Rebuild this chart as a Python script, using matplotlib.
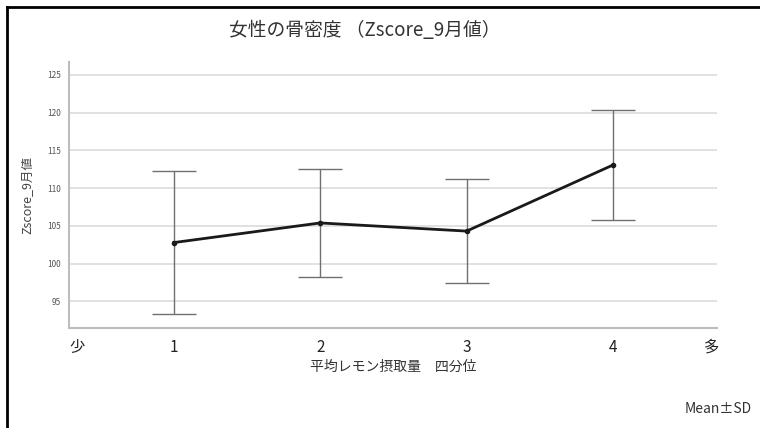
import matplotlib
matplotlib.use("Agg")
import matplotlib.pyplot as plt
from matplotlib.lines import Line2D

plt.rcParams['font.family'] = ['Noto Sans CJK JP', 'DejaVu Sans']

# data
quartile = [1, 2, 3, 4]
mean = [102.78, 105.38, 104.30, 113.06]
sd = [9.52, 7.20, 6.88, 7.32]
yticks = [95, 100, 105, 110, 115, 120, 125]
end_labels = ['少', '多']

fig = plt.figure(figsize=(7.6, 4.28), dpi=100)
ax = fig.add_axes([0.0908, 0.2343, 0.8526, 0.6208])

ax.errorbar(quartile, mean, yerr=sd, fmt='none', ecolor='#707070',
            elinewidth=1.0, capsize=16, capthick=1.0, zorder=3)
ax.plot(quartile, mean, color='#1a1a1a', lw=2.0, marker='o', ms=3, zorder=4)

ax.set_xlim(0.284, 4.71)
ax.set_ylim(91.5, 126.7)
ax.set_yticks(yticks)
ax.set_yticklabels([str(v) for v in yticks], fontsize=6, color='#555555')
ax.set_xticks([0.34] + quartile + [4.67])
ax.set_xticklabels([end_labels[0]] + [str(q) for q in quartile] + [end_labels[1]],
                   fontsize=11, color='#222222')
ax.tick_params(axis='both', length=0)
ax.tick_params(axis='x', pad=8)
ax.tick_params(axis='y', pad=6)

ax.grid(axis='y', color='#dcdcdc', lw=1.2)
ax.set_axisbelow(True)
for s in ['top', 'right']:
    ax.spines[s].set_visible(False)
for s in ['left', 'bottom']:
    ax.spines[s].set_color('#bdbdbd')
    ax.spines[s].set_linewidth(1.5)

ax.set_ylabel('Zscore_9月値', fontsize=9, color='#444444', labelpad=9)
ax.set_xlabel('平均レモン摂取量　四分位', fontsize=10, color='#333333', labelpad=3)

fig.text(0.48, 0.928, '女性の骨密度 （Zscore_9月値）', ha='center', va='center',
         fontsize=13.5, color='#333333')
fig.text(0.901, 0.044, 'Mean±SD', ha='left', va='center', fontsize=10,
         color='#333333')

# frame lines of the screenshot (top and left)
fig.add_artist(Line2D([0.009, 1.0], [0.984, 0.984], color='black', lw=2))
fig.add_artist(Line2D([0.009, 0.009], [0.0, 0.984], color='black', lw=2))

fig.savefig('out.png', dpi=100)
